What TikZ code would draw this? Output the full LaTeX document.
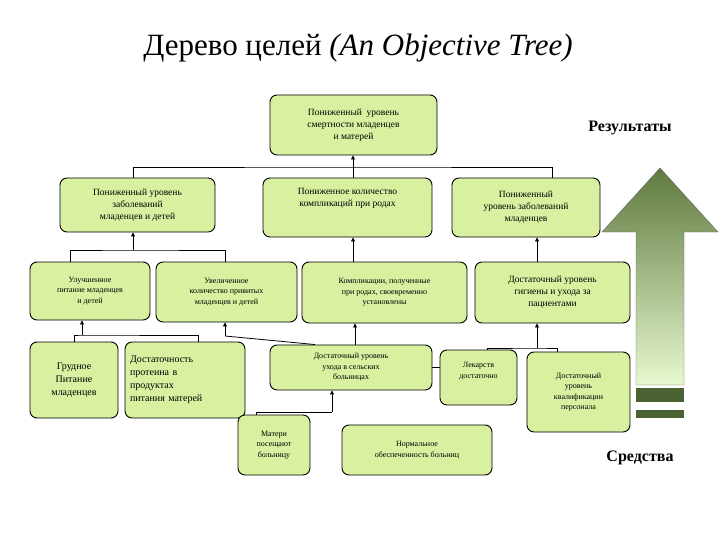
\documentclass[tikz,border=0pt]{standalone}
\usepackage{fontspec}
\setmainfont{Liberation Serif}
\usetikzlibrary{arrows.meta}
\definecolor{boxg}{HTML}{D8F0A0}
\definecolor{darkg}{HTML}{5E7A3E}
\definecolor{lightg}{HTML}{E8F8D0}
\newcommand{\bx}[7]{\node[gbox,#2,minimum width={(#5-#3)*1pt},minimum height={(#6-#4)*1pt}] (#1) at ({(#3+#5)/2},{(#4+#6)/2}) {#7};}
\begin{document}
\begin{tikzpicture}[x=1pt,y=-1pt,
  gbox/.style={draw=black,line width=0.9pt,fill=boxg,rounded corners=7pt,align=center,inner sep=1pt,font=\fontsize{9.5}{12}\selectfont},
  sm/.style={font=\fontsize{8}{10.5}\selectfont},
  lg/.style={font=\fontsize{10}{13}\selectfont},
  nm/.style={},
  con/.style={line width=0.8pt},
  arr/.style={line width=0.8pt,-{Triangle[length=4pt,width=4pt]}}]
\useasboundingbox (0,0) rectangle (720,540);
\node[font=\fontsize{31}{34}\selectfont] (title) at (358,48) {Дерево целей \textit{(An Objective Tree)}};
\node[font=\bfseries\fontsize{16}{18}\selectfont] (res) at (630,128) {Результаты};
\node[font=\bfseries\fontsize{16}{18}\selectfont] (sred) at (640,458) {Средства};
% arrow
\shade[top color=darkg,bottom color=lightg,draw=black!60] (636,385) -- (636,232) -- (602,232) -- (660,168) -- (718,232) -- (684,232) -- (684,385) -- cycle;
\fill[darkg!80!black] (636,388) rectangle (684,402);
\fill[darkg!80!black] (636,410) rectangle (684,418);
% boxes
\bx{top}{nm}{270}{95}{437}{155}{Пониженный\ \ уровень\\смертности младенцев\\и матерей}
\bx{a1}{nm}{60}{178}{215}{232}{Пониженный уровень\\заболеваний\\младенцев и детей}
\bx{a2}{nm}{263}{178}{432}{237}{Пониженное количество\\компликаций при родах\\[8pt]}
\bx{a3}{nm}{452}{178}{600}{237}{Пониженный\\уровень заболеваний\\младенцев}
\bx{b1}{sm}{30}{262}{150}{320}{Улучшенное\\питание младенцев\\и детей}
\bx{b2}{sm}{156}{262}{297}{322}{Увеличенное\\количество привитых\\младенцев и детей}
\bx{b3}{sm}{302}{262}{467}{323}{Компликации, полученные\\при родах, своевременно\\установлены}
\bx{b4}{nm}{475}{262}{630}{323}{Достаточный уровень\\гигиены и ухода за\\пациентами}
\bx{c1}{lg}{30}{342}{118}{418}{Грудное\\Питание\\младенцев}
\node[gbox,lg,minimum width=120pt,minimum height=76pt,text width=110pt,align=left] (c2) at (185,380) {Достаточность\\протеина в\\продуктах\\питания матерей};
\bx{c3}{sm}{270}{345}{432}{390}{Достаточный уровень\\ухода в сельских\\больницах}
\bx{c4}{sm}{440}{350}{517}{405}{Лекарств\\достаточно\\[4pt]}
\bx{c5}{sm}{527}{352}{630}{432}{Достаточный\\уровень\\квалификации\\персонала}
\bx{d1}{sm}{238}{415}{310}{475}{Матери\\посещают\\больницу}
\bx{d2}{sm}{342}{425}{492}{475}{Нормальное\\обеспеченность больниц}
% connectors
\coordinate (j1) at (353,167);
\draw[con] (a1.north -| 133,0) |- (j1) -| (a3.north -| 552,0);
\draw[arr] (a2.north -| j1) -- (top.south -| j1);
\draw[con] (b1.north -| 70,0) |- (133,250) -| (b2.north -| 225,0);
\draw[arr] (133,250) -- (a1.south -| 133,0);
\draw[arr] (b3.north -| 353,0) -- (a2.south -| 353,0);
\draw[arr] (b4.north -| 537,0) -- (a3.south -| 537,0);
\draw[con] (c1.north) |- (82,335) -| (c2.north -| 198,0);
\draw[arr] (82,335) -- (b1.south -| 82,0);
\draw[arr] (c3.north -| 355,0) -- (b3.south -| 355,0);
\draw[con] (c3.north -| 315,0) -- (225,336);
\draw[arr] (225,336) -- (b2.south -| 225,0);
\draw[con] (c4.north -| 487,0) |- (537,348) -| (c5.north -| 557,0);
\draw[arr] (537,348) -- (b4.south -| 537,0);
\draw[con] (c3.east) -- (c4.west |- c3.east);
\draw[con] (d1.north -| 256,0) |- (332,412);
\draw[arr] (332,412) -- (c3.south -| 332,0);
\end{tikzpicture}
\end{document}
